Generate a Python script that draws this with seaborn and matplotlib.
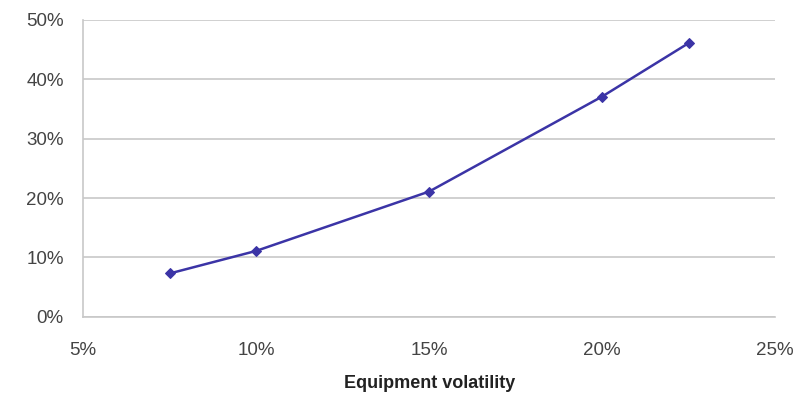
import matplotlib
matplotlib.use("Agg")
import matplotlib.pyplot as plt
import seaborn as sns
import pandas as pd
from matplotlib.ticker import FuncFormatter

# values
volatility = [7.5, 10, 15, 20, 22.5]
value = [7.3, 11.1, 21.1, 37.1, 46.1]
x_ticks = [5, 10, 15, 20, 25]
y_ticks = [0, 10, 20, 30, 40, 50]

df = pd.DataFrame({"vol": volatility, "val": value})

sns.set_style("white")
plt.rcParams["font.family"] = ["Liberation Sans", "DejaVu Sans"]

fig = plt.figure(figsize=(8, 3.98), dpi=100)
ax = fig.add_axes([0.104, 0.204, 0.865, 0.746])

sns.lineplot(data=df, x="vol", y="val", ax=ax, color="#3b34a6",
             linewidth=1.8, marker="D", markersize=5,
             markeredgecolor="#3b34a6")

ax.set_xlim(5, 25)
ax.set_ylim(0, 50)
ax.set_xticks(x_ticks)
ax.set_yticks(y_ticks)
pct = FuncFormatter(lambda v, p: f"{v:.0f}%")
ax.xaxis.set_major_formatter(pct)
ax.yaxis.set_major_formatter(pct)

ax.grid(axis="y", color="#c8c8c8", linewidth=1.2)
for s in ["top", "right"]:
    ax.spines[s].set_visible(False)
for s in ["left", "bottom"]:
    ax.spines[s].set_color("#c8c8c8")
    ax.spines[s].set_linewidth(1.2)

ax.tick_params(axis="both", length=0, labelsize=13.5, colors="#444444")
ax.tick_params(axis="x", pad=18)
ax.tick_params(axis="y", pad=14)

ax.set_xlabel("Equipment volatility", fontsize=13, fontweight="bold",
              color="#222222", labelpad=12)
ax.set_ylabel("")

fig.savefig("out.png", dpi=100, facecolor="white")
